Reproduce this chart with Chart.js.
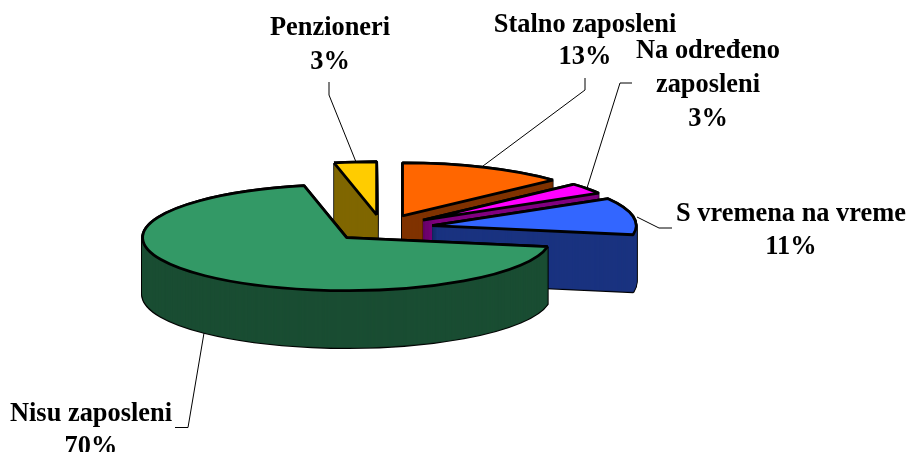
<!DOCTYPE html>
<html>
<head>
<meta charset="utf-8">
<style>
  html, body { margin:0; padding:0; background:#fff; }
  #wrap { width:910px; height:452px; position:relative; }
</style>
<script src="https://cdn.jsdelivr.net/npm/chart.js@4/dist/chart.umd.min.js"></script>
</head>
<body>
<div id="wrap"><canvas id="pie" width="910" height="452"></canvas></div>
<script>
// ---- Data ----
const categories = ['Stalno zaposleni', 'Na određeno zaposleni', 'S vremena na vreme', 'Nisu zaposleni', 'Penzioneri'];
const shares = [13.4, 3.4, 11.4, 70, 3.4];
const topColors = ['#FF6600', '#FF00FF', '#3366FF', '#339966', '#FFCC00'];
const wallColors = ['#803300', '#800080', '#1A3380', '#1A4D33', '#806600'];

// ---- Look of the fake 3D pie ----
const tilt = 0.26;        // vertical squash of the pie
const depth = 57;         // wall height in px
const explode = 51;       // how far each slice is pulled out
const outline = 2.8;
const backToFront = [4, 0, 1, 2, 3];

// label lines, text centred on x, one baseline per line
const labelFont = 'bold 26.4px "Liberation Serif"';
const labelBoxes = [
  { x:585, ys:[32, 64], lines:['Stalno zaposleni'] },
  { x:708, ys:[58, 92, 126], lines:['Na određeno', 'zaposleni'] },
  { x:791, ys:[221, 254], lines:['S vremena na vreme'] },
  { x:91, ys:[421, 454], lines:['Nisu zaposleni'] },
  { x:330, ys:[35, 69], lines:['Penzioneri'] }
];
const leaders = [
  [[585,78],[585,90],[483,166]],
  [[632,83],[620,83],[587,188]],
  [[672,228],[659,228],[637,217]],
  [[175,427.5],[188,427.5],[204,333]],
  [[329,82],[329,95],[356,162]]
];

// draws one arc through the squash, keeps line width even by stroking untransformed
function drawSlice(ctx, arc, drop, opts) {
  const mid = (arc.startAngle + arc.endAngle) / 2;
  const saved = arc.options;
  arc.options = Object.assign({}, saved, opts);
  ctx.save();
  ctx.translate(arc.x + Math.cos(mid)*explode, arc.y + Math.sin(mid)*explode*tilt + drop);
  ctx.scale(1, tilt);
  ctx.translate(-arc.x, -arc.y);
  arc.draw(ctx);
  ctx.restore();
  arc.options = saved;
}

const pie3d = {
  id:'pie3d',
  beforeDatasetDraw(chart, args) {
    const ctx = chart.ctx;
    const arcs = args.meta.data;
    ctx.stroke = function() {
      const m = ctx.getTransform();
      ctx.resetTransform();
      CanvasRenderingContext2D.prototype.stroke.call(ctx);
      ctx.setTransform(m);
    };
    backToFront.forEach(i => {
      const arc = arcs[i];
      for (let d = depth; d >= 0; d--)
        drawSlice(ctx, arc, d, { backgroundColor:'#000', borderColor:'#000', borderWidth:outline });
      // thin same-colour border hides the seams between wall layers
      for (let d = depth; d >= 1; d--)
        drawSlice(ctx, arc, d, { backgroundColor:wallColors[i], borderColor:wallColors[i], borderWidth:0.6 });
      drawSlice(ctx, arc, 0, { backgroundColor:topColors[i], borderColor:'#000', borderWidth:outline });
    });
    delete ctx.stroke;
    return false;
  },
  afterDraw(chart) {
    const ctx = chart.ctx;
    ctx.save();
    ctx.strokeStyle = '#000';
    ctx.lineWidth = 1;
    leaders.forEach(pts => {
      ctx.beginPath();
      pts.forEach((p, i) => i ? ctx.lineTo(p[0], p[1]) : ctx.moveTo(p[0], p[1]));
      ctx.stroke();
    });
    ctx.fillStyle = '#000';
    ctx.font = labelFont;
    ctx.textAlign = 'center';
    ctx.textBaseline = 'alphabetic';
    labelBoxes.forEach((b, i) => {
      b.lines.concat(Math.round(shares[i]) + '%').forEach((t, k) => ctx.fillText(t, b.x, b.ys[k]));
    });
    ctx.restore();
  }
};

new Chart(document.getElementById('pie'), {
  type:'pie',
  data:{ labels:categories, datasets:[{ data:shares, backgroundColor:topColors, clip:false }] },
  options:{
    responsive:false,
    animation:false,
    radius:204,
    layout:{ padding:{ left:0, right:146, top:4, bottom:0 } },
    plugins:{ legend:{ display:false }, tooltip:{ enabled:false } }
  },
  plugins:[pie3d]
});
</script>
</body>
</html>
